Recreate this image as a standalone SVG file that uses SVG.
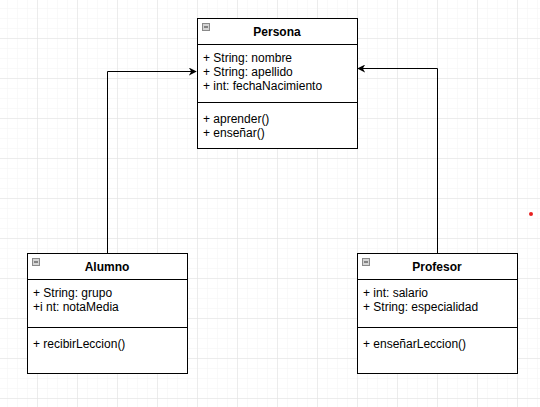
<svg xmlns="http://www.w3.org/2000/svg" width="540" height="407" viewBox="0 0 540 407">
  <defs>
    <pattern id="minor" x="7" y="8" width="10" height="10" patternUnits="userSpaceOnUse">
      <path d="M0 0H10M0 0V10" fill="none" stroke="#f3f3f3" stroke-width="1"/>
    </pattern>
    <pattern id="major" x="37" y="38" width="40" height="40" patternUnits="userSpaceOnUse">
      <path d="M0 0H40M0 0V40" fill="none" stroke="#e0e0e0" stroke-width="1"/>
    </pattern>
    <marker id="arr" viewBox="0 0 10 10" refX="9" refY="5" markerWidth="8" markerHeight="8" markerUnits="userSpaceOnUse" orient="auto">
      <path d="M0 0 L10 5 L0 10 L3 5 Z" fill="#000"/>
    </marker>
  </defs>
  <style>
    .box { fill: #fff; stroke: #000; stroke-width: 1; }
    .sep { stroke: #000; stroke-width: 1; }
    .title { font-family: "Liberation Sans", Arial, sans-serif; font-size: 12px; font-weight: bold; text-anchor: middle; fill: #000; }
    .txt { font-family: "Liberation Sans", Arial, sans-serif; font-size: 12px; fill: #000; }
    .icon { fill: #d4d4d4; stroke: #8a8a8a; stroke-width: 1; }
    .minus { stroke: #333; stroke-width: 1; }
    .edge { fill: none; stroke: #000; stroke-width: 1; }
  </style>
  <rect width="540" height="407" fill="#fff"/>
  <rect width="540" height="407" fill="url(#minor)"/>
  <rect width="540" height="407" fill="url(#major)"/>

  <g id="connectors">
    <path class="edge" d="M107.5 253 V71.5 H196" marker-end="url(#arr)"/>
    <path class="edge" d="M437.5 253 V68.5 H358" marker-end="url(#arr)"/>
  </g>

  <g id="persona">
    <rect class="box" x="197.5" y="18.5" width="160" height="130"/>
    <line class="sep" x1="197.5" y1="44.5" x2="357.5" y2="44.5"/>
    <line class="sep" x1="197.5" y1="102.5" x2="357.5" y2="102.5"/>
    <rect class="icon" x="202.5" y="23.5" width="7" height="7"/>
    <line class="minus" x1="204" y1="27" x2="208" y2="27"/>
    <text class="title" x="277" y="36">Persona</text>
    <text class="txt" x="203" y="62">+ String: nombre</text>
    <text class="txt" x="203" y="76">+ String: apellido</text>
    <text class="txt" x="203" y="90">+ int: fechaNacimiento</text>
    <text class="txt" x="203" y="123">+ aprender()</text>
    <text class="txt" x="203" y="137">+ enseñar()</text>
  </g>

  <g id="alumno">
    <rect class="box" x="27.5" y="253.5" width="160" height="120"/>
    <line class="sep" x1="27.5" y1="279.5" x2="187.5" y2="279.5"/>
    <line class="sep" x1="27.5" y1="327.5" x2="187.5" y2="327.5"/>
    <rect class="icon" x="32.5" y="258.5" width="7" height="7"/>
    <line class="minus" x1="34" y1="262" x2="38" y2="262"/>
    <text class="title" x="107" y="271">Alumno</text>
    <text class="txt" x="33" y="297">+ String: grupo</text>
    <text class="txt" x="33" y="311">+i nt: notaMedia</text>
    <text class="txt" x="33" y="348">+ recibirLeccion()</text>
  </g>

  <g id="profesor">
    <rect class="box" x="357.5" y="253.5" width="160" height="120"/>
    <line class="sep" x1="357.5" y1="279.5" x2="517.5" y2="279.5"/>
    <line class="sep" x1="357.5" y1="327.5" x2="517.5" y2="327.5"/>
    <rect class="icon" x="362.5" y="258.5" width="7" height="7"/>
    <line class="minus" x1="364" y1="262" x2="368" y2="262"/>
    <text class="title" x="437" y="271">Profesor</text>
    <text class="txt" x="363" y="297">+ int: salario</text>
    <text class="txt" x="363" y="311">+ String: especialidad</text>
    <text class="txt" x="363" y="348">+ enseñarLeccion()</text>
  </g>

  <circle cx="531" cy="214" r="2" fill="#e82020"/>
</svg>
